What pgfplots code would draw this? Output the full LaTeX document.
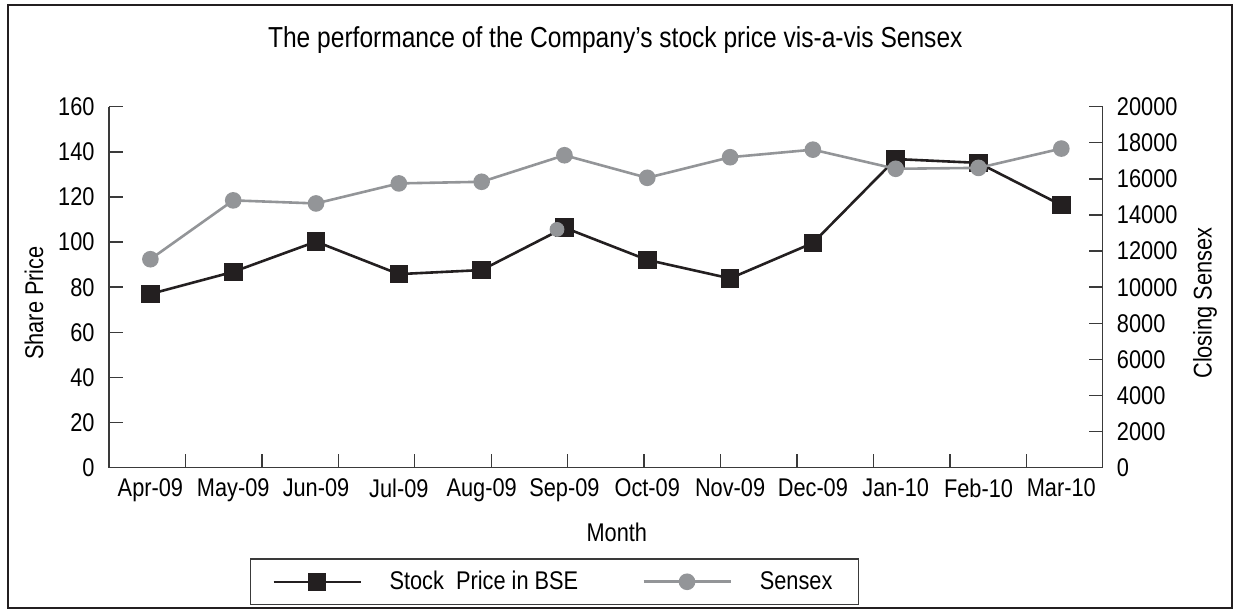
\documentclass[border=0pt]{standalone}
\usepackage{fontspec}
\setmainfont{Liberation Sans}[FakeStretch=0.85]
\usepackage{pgfplots}
\pgfplotsset{compat=1.18}
\definecolor{blk}{HTML}{231F20}
\definecolor{gry}{HTML}{939598}
\definecolor{axc}{HTML}{3A3A3A}
\newcommand{\lbl}{\fontsize{12.8}{15}\selectfont}
\begin{document}
\begin{tikzpicture}
\useasboundingbox (0,0) rectangle (617pt,305pt);
\draw[blk, line width=1pt] (4pt,1pt) rectangle (616pt,302.5pt);
\pgfplotsset{
  common/.style={
    at={(54.5pt,71.15pt)}, anchor=south west,
    scale only axis, width=496.85pt, height=180.5pt,
    xmin=-0.5, xmax=11.5,
    axis line style={axc, line width=0.7pt},
    tick style={axc, line width=0.7pt},
    tick align=inside,
    major tick length=0pt, minor tick length=7pt,
    ticklabel style={font=\lbl},
    label style={font=\lbl},
    scaled ticks=false,
    /pgf/number format/assume math mode=true,
    /pgf/number format/1000 sep={},
    clip=false,
  }
}
\begin{axis}[common,
  ymin=0, ymax=160,
  axis y line*=left, axis x line*=bottom,
  ytick={0,20,...,160}, minor ytick={0,20,...,160},
  xtick={0,...,11},
  xticklabels={Apr-09,May-09,Jun-09,Jul-09,Aug-09,Sep-09,Oct-09,Nov-09,Dec-09,Jan-10,Feb-10,Mar-10},
  minor xtick={0.4231,1.3462,2.2692,3.1923,4.1154,5.0385,5.9615,6.8846,7.8077,8.7308,9.6538,10.5769},
  yticklabel style={xshift=-3.7pt},
  xticklabel style={yshift=-2pt},
  xlabel={Month},
  xlabel style={at={(axis description cs:0.511,-0.178)}, anchor=center},
  ylabel={Share Price},
  ylabel style={at={(axis description cs:-0.0755,0.456)}, anchor=center},
  title={The performance of the Company’s stock price vis-a-vis Sensex},
  title style={at={(axis description cs:0.5095,1.1515)}, anchor=center, font=\fontsize{14.45}{17}\selectfont},
]
\addplot[blk, line width=1.3pt, mark=square*, mark size=4pt, mark options={solid, fill=blk}]
  coordinates {(0,77) (1,86.8) (2,100.2) (3,85.8) (4,87.6) (5,106.4) (6,92.1) (7,83.9) (8,99.6) (9,136.8) (10,135.1) (11,116.4)};
\end{axis}
\begin{axis}[common,
  ymin=0, ymax=20000,
  axis y line*=right, axis x line=none,
  ytick={0,2000,...,20000}, minor ytick={0,2000,...,20000},
  yticklabel style={xshift=3.6pt},
  ylabel={Closing Sensex},
  ylabel style={at={(axis description cs:1.103,0.456)}, anchor=center, rotate=0},
  legend image code/.code={\draw[mark repeat=2, mark phase=2, #1] plot coordinates {(0pt,0pt) (21.75pt,0pt) (43.5pt,0pt)};},
  legend columns=2,
  legend style={at={(axis description cs:0.4483,-0.316)}, anchor=center, draw=axc, line width=0.6pt,
    font=\lbl, inner xsep=11pt, inner ysep=4pt,
    /tikz/every odd column/.append style={column sep=12pt},
    /tikz/every even column/.append style={column sep=30pt}},
]
\addlegendimage{blk, line width=1pt, mark=square*, mark size=4pt, mark options={solid, fill=blk}}
\addlegendentry{Stock\ \ Price in BSE}
\addplot[gry, line width=1.3pt, mark=*, mark size=3.5pt, mark options={solid, fill=gry}]
  coordinates {(0,11550) (1,14810) (2,14640) (3,15750) (4,15840) (5,17310) (6,16060) (7,17200) (8,17620) (9,16560) (10,16610) (11,17680)};
\addlegendentry{Sensex\hspace{5pt}}
\addplot[gry, only marks, mark=*, mark size=3.5pt, mark options={fill=gry}, forget plot]
  coordinates {(4.91,13200)};
\end{axis}
\end{tikzpicture}
\end{document}
